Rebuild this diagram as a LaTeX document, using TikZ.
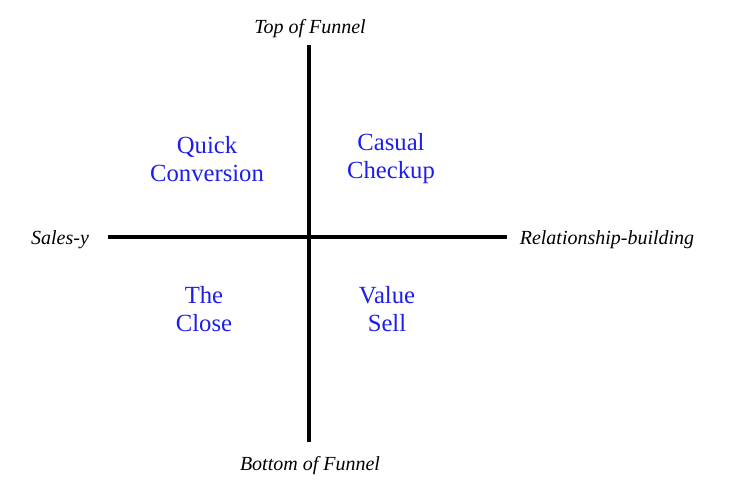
\documentclass[tikz,border=0pt]{standalone}
\usepackage{fontspec}
\setmainfont{Liberation Serif}
\definecolor{quadblue}{RGB}{30, 30, 235}
\tikzset{
  axis/.style={line width=3pt, black},
  axislabel/.style={font=\fontsize{15}{17}\selectfont\itshape},
  quadrant/.style={align=center, text=quadblue, font=\fontsize{18.5}{21}\selectfont},
}
\begin{document}
\begin{tikzpicture}[x=0.75pt, y=-0.75pt]
            \useasboundingbox (0,0) rectangle (740,495);

            % Axis ends
            \coordinate (top) at (309,45);
            \coordinate (bottom) at (309,442);
            \coordinate (left) at (108,237);
            \coordinate (right) at (507,237);

            % Axes
            \draw[axis] (top) -- (bottom);
            \draw[axis] (left) -- (right);

            % Axis labels
            \node[axislabel] (toplabel) at (310,29) {Top of Funnel};
            \node[axislabel] (bottomlabel) at (310,466) {Bottom of Funnel};
            \node[axislabel] (saleslabel) at (60,240) {Sales-y};
            \node[axislabel] (relationlabel) at (607,240) {Relationship-building};

            % Quadrants
            \node[quadrant] (quick) at (207,159) {Quick\\Conversion};
            \node[quadrant] (casual) at (391,159) {Casual\\Checkup};
            \node[quadrant] (close) at (204,309) {The\\Close};
            \node[quadrant] (value) at (387,309) {Value\\Sell};
\end{tikzpicture}
\end{document}
